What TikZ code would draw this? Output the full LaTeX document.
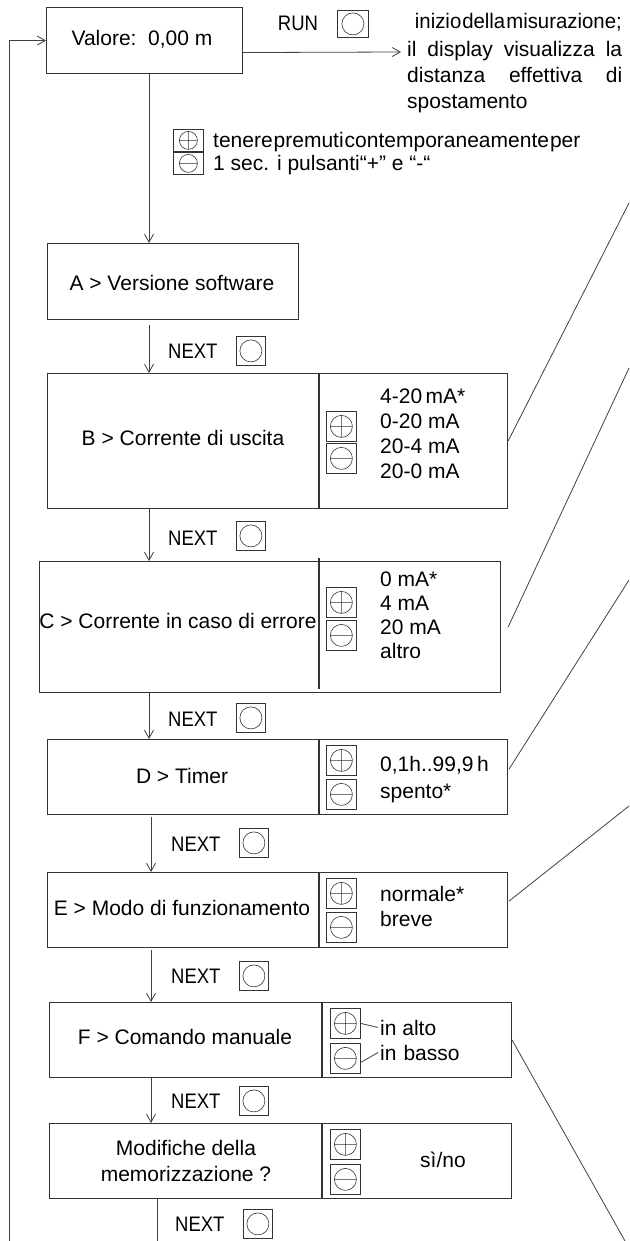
\documentclass[tikz,border=0pt]{standalone}
\usepackage{fontspec}
\usepackage{graphicx}
\setmainfont{Liberation Sans}
\newfontfamily\cond{Liberation Sans}[FakeStretch=0.88]
\usetikzlibrary{arrows.meta}
\begin{document}
\begin{tikzpicture}[x=1pt,y=-1pt,
 frame/.style={draw=black!80,line width=1.1pt,rectangle,inner sep=0pt,anchor=north west},
 conn/.style={draw=black!75,line width=0.8pt},
 arr/.style={conn,-{Straight Barb[length=8pt,width=9pt]}},
 txt/.style={font=\fontsize{21}{25}\selectfont,inner sep=0pt,anchor=base},
 ltxt/.style={txt,anchor=base west},
 nxt/.style={ltxt,font=\fontsize{21}{25}\selectfont\cond},
 btnbase/.style={draw=black!80,line width=0.8pt,rectangle,inner sep=0pt,anchor=north west,minimum width=30pt,minimum height=30pt},
 btnO/.style={btnbase,path picture={\draw[line width=0.6pt] (path picture bounding box.center) circle[radius=#1];}},
 btnO/.default=11pt,
 btnP/.style={btnbase,path picture={\draw[line width=0.6pt] (path picture bounding box.center) circle[radius=#1]
   ([xshift=-#1]path picture bounding box.center) -- ([xshift=#1]path picture bounding box.center)
   ([yshift=-#1]path picture bounding box.center) -- ([yshift=#1]path picture bounding box.center);}},
 btnP/.default=11pt,
 btnM/.style={btnbase,path picture={\draw[line width=0.6pt] (path picture bounding box.center) circle[radius=#1]
   ([xshift=-#1]path picture bounding box.center) -- ([xshift=#1]path picture bounding box.center);}},
 btnM/.default=11pt,
 nbtn/.style={btnO,minimum width=29pt,minimum height=29pt},
]
\useasboundingbox (0,0) rectangle (629,1241);

% columns
\coordinate (c1) at (149,0);
\coordinate (c2) at (151,0);
\coordinate (c3) at (157,0);
\coordinate (dv) at (319,0);
\coordinate (dw) at (322,0);

% top box
\node[frame,minimum width=196pt,minimum height=66pt] (V) at (46,7) {};
\node[txt] (Vt) at (142,46) {Valore:\ \ 0,00 m};
\node[txt,font=\fontsize{21}{25}\selectfont\cond] (run) at (298,31) {RUN};
\node[btnO,minimum width=31pt,minimum height=27pt] (runb) at (337,10) {};
\node[txt,anchor=base east] (r1) at (622,29) {\scalebox{0.97}[1]{\spaceskip=1pt inizio della misurazione;}};
\node[ltxt] (r2) at (407,57) {\makebox[215pt][s]{il display visualizza la}};
\node[ltxt] (r3) at (407,83) {\makebox[215pt][s]{distanza effettiva di}};
\node[ltxt] (r4) at (407,109) {spostamento};
\coordinate (runend) at (401,52);
\draw[arr] (V.east) ++(0,12) -- (runend);

% plus/minus instruction
\node[btnP=9pt,minimum height=22pt] (tp) at (173,129) {};
\node[btnM=9pt,minimum height=22pt] (tm) at (173,152) {};
\node[ltxt] (t1) at (213,148) {\spaceskip=1pt tenere premuti contemporaneamente per};
\node[ltxt] (t2) at (213,171) {1 sec. i pulsanti“+” e “-“};

% A
\node[frame,minimum width=251pt,minimum height=76pt] (A) at (47,243) {};
\node[txt] (At) at (172,290) {A > Versione software};
\draw[arr] (V.south -| c1) -- (A.north -| c1);

% NEXT 1
\node[nxt] (n1) at (168,358) {NEXT};
\node[nbtn] (n1b) at (236,336) {};
\draw[arr] (A.south -| c1) ++(0,5) -- (c1 |- 0,373);

% B
\node[frame,minimum width=460pt,minimum height=135pt] (B) at (47,373) {};
\draw[frame] (B.north -| dv) -- (B.south -| dv);
\node[txt] (Bt) at (183,445) {B > Corrente di uscita};
\node[btnP] (Bp) at (326,411) {};
\node[btnM] (Bm) at (326,443) {};
\node[ltxt] (B1) at (380,403) {4-20\,mA*};
\node[ltxt] (B2) at (380,428) {0-20 mA};
\node[ltxt] (B3) at (380,453) {20-4 mA};
\node[ltxt] (B4) at (380,478) {20-0 mA};

% NEXT 2
\node[nxt] (n2) at (168,545) {NEXT};
\node[nbtn] (n2b) at (236,521) {};
\draw[arr] (B.south -| c1) -- (c1 |- 0,561);

% C
\node[frame,minimum width=461pt,minimum height=131pt] (C) at (39,561) {};
\coordinate (cd1) at (319,558);
\coordinate (cd2) at (319,689);
\draw[frame] (cd1) -- (cd2);
\node[txt] (Ct) at (178,628) {C > Corrente in caso di errore};
\node[btnP] (Cp) at (326,587) {};
\node[btnM] (Cm) at (326,620) {};
\node[ltxt] (C1) at (380,586) {0 mA*};
\node[ltxt] (C2) at (380,610) {4 mA};
\node[ltxt] (C3) at (380,634) {20 mA};
\node[ltxt] (C4) at (380,658) {altro};

% NEXT 3
\node[nxt] (n3) at (168,726) {NEXT};
\node[nbtn] (n3b) at (236,703) {};
\draw[arr] (C.south -| c1) -- (c1 |- 0,739);

% D
\node[frame,minimum width=460pt,minimum height=75pt] (D) at (47,739) {};
\draw[frame] (D.north -| dv) -- (D.south -| dv);
\node[txt] (Dt) at (182,783) {D > Timer};
\node[btnP] (Dp) at (326,745) {};
\node[btnM] (Dm) at (326,779) {};
\node[ltxt] (D1) at (380,771) {0,1h..99,9\,h};
\node[ltxt] (D2) at (380,798) {spento*};

% NEXT 4
\node[nxt] (n4) at (171,851) {NEXT};
\node[nbtn] (n4b) at (239,828) {};
\draw[arr] (D.south -| c2) ++(0,2) -- (c2 |- 0,872);

% E
\node[frame,minimum width=460pt,minimum height=75pt] (E) at (47,872) {};
\draw[frame] (E.north -| dv) -- (E.south -| dv);
\node[txt] (Et) at (182,915) {E > Modo di funzionamento};
\node[btnP] (Ep) at (326,878) {};
\node[btnM] (Em) at (326,912) {};
\node[ltxt] (E1) at (380,901) {normale*};
\node[ltxt] (E2) at (380,926) {breve};

% NEXT 5
\node[nxt] (n5) at (171,983) {NEXT};
\node[nbtn] (n5b) at (239,961) {};
\draw[arr] (E.south -| c2) ++(0,2) -- (c2 |- 0,1002);

% F
\node[frame,minimum width=462pt,minimum height=75pt] (F) at (49,1002) {};
\draw[frame] (F.north -| dw) -- (F.south -| dw);
\node[txt] (Ft) at (185,1044) {F > Comando manuale};
\node[btnP] (Fp) at (330,1008) {};
\node[btnM] (Fm) at (330,1043) {};
\node[ltxt] (Fa) at (380,1035) {in alto};
\node[ltxt] (Fb) at (380,1060) {in\hspace{7pt}basso};
\draw[conn] (Fp.east) -- ([xshift=-2pt]Fa.west);
\draw[conn] ([yshift=-4pt]Fm.east) -- ([xshift=-2pt]Fb.west);

% NEXT 6
\node[nxt] (n6) at (171,1108) {NEXT};
\node[nbtn] (n6b) at (239,1086) {};
\draw[arr] (F.south -| c2) -- (c2 |- 0,1123);

% G
\node[frame,minimum width=462pt,minimum height=75pt] (G) at (49,1123) {};
\draw[frame] (G.north -| dw) -- (G.south -| dw);
\node[txt] (Gt1) at (186,1155) {Modifiche della};
\node[txt] (Gt2) at (186,1181) {memorizzazione ?};
\node[btnP] (Gp) at (330,1129) {};
\node[btnM] (Gm) at (330,1164) {};
\node[txt] (Gs) at (443,1167) {sì/no};

% NEXT 7
\node[nxt] (n7) at (175,1231) {NEXT};
\node[nbtn] (n7b) at (243,1209) {};
\coordinate (bot) at (9,1241);
\draw[conn] (G.south -| c3) -- (c3 |- bot);

% loop back
\draw[arr] (bot) |- (V.west);

% diagonal leaders
\coordinate (e1) at (629,203);
\coordinate (e2) at (629,368);
\coordinate (e3) at (629,580);
\coordinate (e4) at (629,806);
\coordinate (e5) at (625,1241);
\draw[conn] (B.east) -- (e1);
\draw[conn] (C.east) ++(7,0) -- (e2);
\draw[conn] (D.east) ++(1,-8) -- (e3);
\draw[conn] (E.east) ++(1,-9) -- (e4);
\draw[conn] (F.east) -- (e5);
\end{tikzpicture}
\end{document}
